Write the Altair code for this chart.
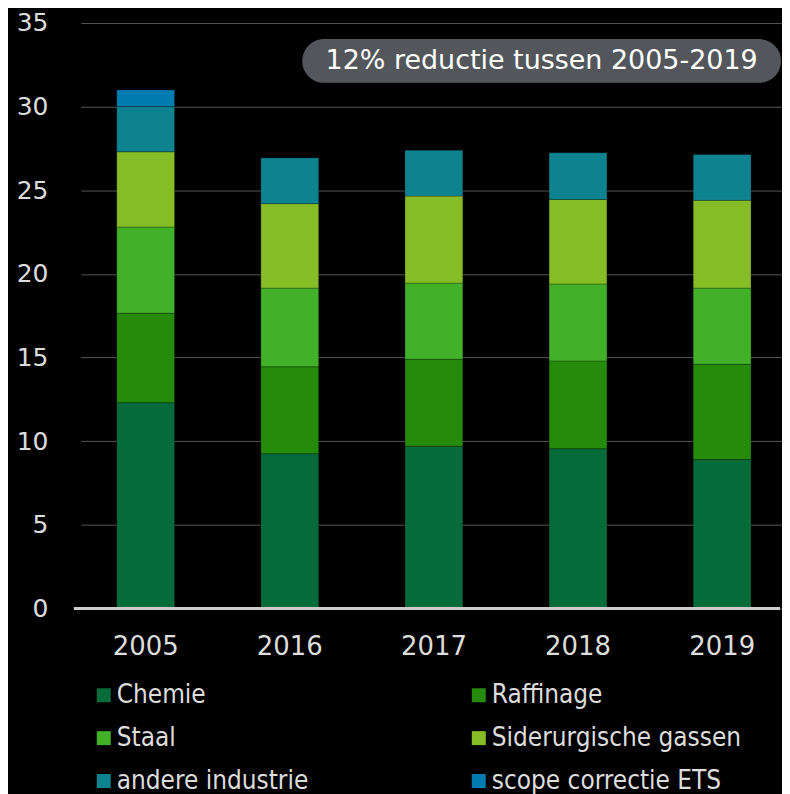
import altair as alt
import pandas as pd

years = ["2005", "2016", "2017", "2018", "2019"]
sectors = ["Chemie", "Raffinage", "Staal", "Siderurgische gassen", "andere industrie", "scope correctie ETS"]
colors = ["#066b3b", "#268a0b", "#43b02a", "#86bc25", "#0d8390", "#007cb0"]

chemie = [12.3, 9.25, 9.7, 9.55, 8.9]
raffinage = [5.35, 5.2, 5.2, 5.25, 5.7]
staal = [5.15, 4.7, 4.55, 4.6, 4.55]
sider = [4.5, 5.05, 5.2, 5.05, 5.25]
andere = [2.7, 2.75, 2.75, 2.8, 2.75]
scope = [1.0, 0.0, 0.0, 0.0, 0.0]

annotation = "12% reductie tussen 2005-2019"

series = [chemie, raffinage, staal, sider, andere, scope]
rows = []
for si, (name, vals) in enumerate(zip(sectors, series)):
    for y, v in zip(years, vals):
        rows.append({"jaar": y, "sector": name, "waarde": v, "volgorde": si})
df = pd.DataFrame(rows)

# legend is laid out column by column: reorder so it reads row by row
legend_order = [sectors[i] for i in (0, 2, 4, 1, 3, 5)]
legend_colors = [colors[i] for i in (0, 2, 4, 1, 3, 5)]

FONT = "DejaVu Sans"
LFONT = "DejaVu Sans Condensed"

bars = alt.Chart(df).mark_bar(size=58, stroke="#000000", strokeOpacity=0.25, strokeWidth=1).encode(
    x=alt.X("jaar:N", sort=years, title=None,
            scale=alt.Scale(paddingInner=0.6, paddingOuter=0.25, range=[7, 715]),
            axis=alt.Axis(labelAngle=0, labelFontSize=26, labelColor="#dddddd", labelFont=FONT,
                          ticks=False, domain=False, labelPadding=25, grid=False)),
    y=alt.Y("waarde:Q", stack="zero", title=None,
            scale=alt.Scale(domain=[0, 35], nice=False),
            axis=alt.Axis(values=[0, 5, 10, 15, 20, 25, 30, 35], labelFontSize=25, labelColor="#dddddd",
                          labelFont=FONT, ticks=False, domain=False, grid=True, gridColor="#555555",
                          gridWidth=1, labelPadding=26)),
    color=alt.Color("sector:N",
                    scale=alt.Scale(domain=legend_order, range=legend_colors),
                    legend=alt.Legend(title=None, orient="none", legendX=17, legendY=661, columns=2,
                                      symbolType="square", symbolSize=196, symbolStrokeWidth=0,
                                      labelFontSize=26, labelColor="#dddddd", labelFont=LFONT,
                                      columnPadding=157, rowPadding=17, labelOffset=0,
                                      labelLimit=400)),
    order=alt.Order("volgorde:Q", sort="ascending"),
)

# light baseline at zero across the full plot width
baseline = alt.Chart(pd.DataFrame({"y": [0]})).mark_rule(color="#cccccc", strokeWidth=3).encode(
    y="y:Q", x=alt.value(0), x2=alt.value(708)
)

box = alt.Chart(pd.DataFrame({"t": [annotation]})).mark_rect(
    color="#53575c", cornerRadius=22
).encode(x=alt.value(229), x2=alt.value(709), y=alt.value(16), y2=alt.value(60))

label = alt.Chart(pd.DataFrame({"t": [annotation]})).mark_text(
    color="#ffffff", fontSize=27, font=FONT, align="center", baseline="middle"
).encode(x=alt.value(469), y=alt.value(38), text="t:N")

chart = alt.layer(bars, baseline, box, label).properties(
    width=708, height=587,
    background="#000000",
    padding={"left": 8, "top": 2, "right": 0, "bottom": 0},
).configure_view(stroke=None)

chart.save("out.html", embed_options={"renderer": "svg", "actions": False})
